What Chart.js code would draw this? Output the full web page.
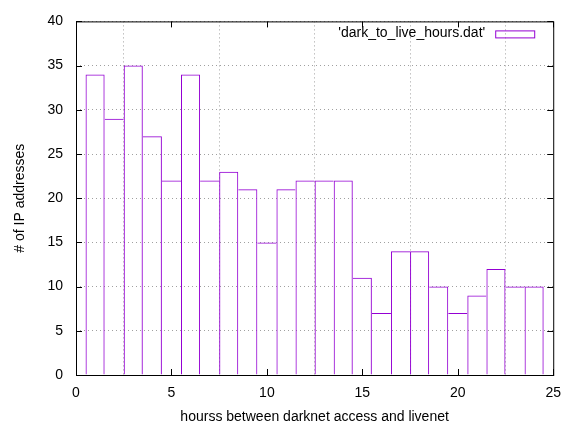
<!DOCTYPE html>
<html>
<head>
<meta charset="utf-8">
<script src="https://cdn.jsdelivr.net/npm/chart.js@4/dist/chart.umd.min.js"></script>
<style>
  html, body { margin: 0; padding: 0; background: #fff; }
  #wrap { width: 571px; height: 426px; }
</style>
</head>
<body>
<div id="wrap"><canvas id="hist"></canvas></div>
<script>
// hours between darknet access and livenet -> number of IP addresses
var hours = [1, 2, 3, 4, 5, 6, 7, 8, 9, 10, 11, 12, 13, 14, 15, 16, 17, 18, 19, 20, 21, 22, 23, 24];
var counts = [34, 29, 35, 27, 22, 34, 22, 23, 21, 15, 21, 22, 22, 22, 11, 7, 14, 14, 10, 7, 9, 12, 10, 10];
var seriesName = "'dark_to_live_hours.dat'";
var xTicks = [0, 5, 10, 15, 20, 25];
var yTicks = [0, 5, 10, 15, 20, 25, 30, 35, 40];

var purple = "#9400d3";
var fontFamily = "'Liberation Sans', Arial, sans-serif";

var points = hours.map(function (h, i) { return { x: h, y: counts[i] }; });

// shared edge between two boxes is drawn once, by the taller one
function boxBorder(ctx) {
  var i = ctx.dataIndex;
  var v = counts[i];
  var left = (i == 0 || v >= counts[i - 1]) ? 1 : 0;
  var right = (i == counts.length - 1 || v > counts[i + 1]) ? 1 : 0;
  return { top: 1, left: left, right: right, bottom: 0 };
}

// gnuplot style frame with inward ticks and a key in the top right corner
var framePlugin = {
  id: 'frame',
  afterDraw: function (chart) {
    var ctx = chart.ctx;
    var a = chart.chartArea;
    var xs = chart.scales.x, ys = chart.scales.y;
    ctx.save();
    ctx.strokeStyle = "#000";
    ctx.lineWidth = 1;
    ctx.strokeRect(a.left + 0.5, a.top + 0.5, a.right - a.left, a.bottom - a.top);
    ctx.beginPath();
    xTicks.forEach(function (t) {
      var px = Math.round(xs.getPixelForValue(t)) + 0.5;
      ctx.moveTo(px, a.bottom); ctx.lineTo(px, a.bottom - 6);
      ctx.moveTo(px, a.top); ctx.lineTo(px, a.top + 6);
    });
    yTicks.forEach(function (t) {
      var py = Math.round(ys.getPixelForValue(t)) + 0.5;
      ctx.moveTo(a.left, py); ctx.lineTo(a.left + 6, py);
      ctx.moveTo(a.right, py); ctx.lineTo(a.right - 6, py);
    });
    ctx.stroke();

    // key
    ctx.font = "14px " + fontFamily;
    ctx.fillStyle = "#000";
    ctx.textAlign = "right";
    ctx.textBaseline = "middle";
    ctx.fillText(seriesName, a.right - 68, a.top + 12);
    ctx.strokeStyle = purple;
    ctx.strokeRect(a.right - 57.5, a.top + 9.5, 39, 7);
    ctx.restore();
  }
};

new Chart(document.getElementById("hist"), {
  type: 'bar',
  data: {
    datasets: [{
      label: seriesName,
      data: points,
      backgroundColor: "rgba(0,0,0,0)",
      borderColor: purple,
      borderWidth: boxBorder,
      borderSkipped: false,
      inflateAmount: 0,
      barPercentage: 1,
      categoryPercentage: 1
    }]
  },
  options: {
    responsive: true,
    maintainAspectRatio: false,
    animation: { duration: 0 },
    layout: { padding: { top: 16, right: 14, left: 0, bottom: 0 } },
    plugins: {
      legend: { display: false },
      tooltip: { enabled: false }
    },
    scales: {
      x: {
        type: 'linear',
        min: 0,
        max: 25,
        offset: false,
        afterBuildTicks: function (scale) {
          scale.ticks = xTicks.map(function (v) { return { value: v }; });
        },
        grid: { color: "#a0a0a0", drawTicks: false, lineWidth: 1 },
        border: { display: false, dash: [1, 3] },
        ticks: { color: "#000", padding: 10, font: { size: 14, family: fontFamily } },
        title: {
          display: true,
          text: "hourss between darknet access and livenet",
          color: "#000",
          padding: { top: 2, bottom: 0 },
          font: { size: 14, family: fontFamily }
        },
        afterFit: function (scale) { scale.height = 51; }
      },
      y: {
        min: 0,
        max: 40,
        afterBuildTicks: function (scale) {
          scale.ticks = yTicks.map(function (v) { return { value: v }; });
        },
        grid: { color: "#a0a0a0", drawTicks: false, lineWidth: 1 },
        border: { display: false, dash: [1, 3] },
        ticks: { color: "#000", padding: 13, font: { size: 14, family: fontFamily } },
        title: {
          display: true,
          text: "# of IP addresses",
          color: "#000",
          padding: { top: 12, bottom: 0 },
          font: { size: 14, family: fontFamily }
        },
        afterFit: function (scale) { scale.width = 76; }
      }
    }
  },
  plugins: [framePlugin]
});
</script>
</body>
</html>
